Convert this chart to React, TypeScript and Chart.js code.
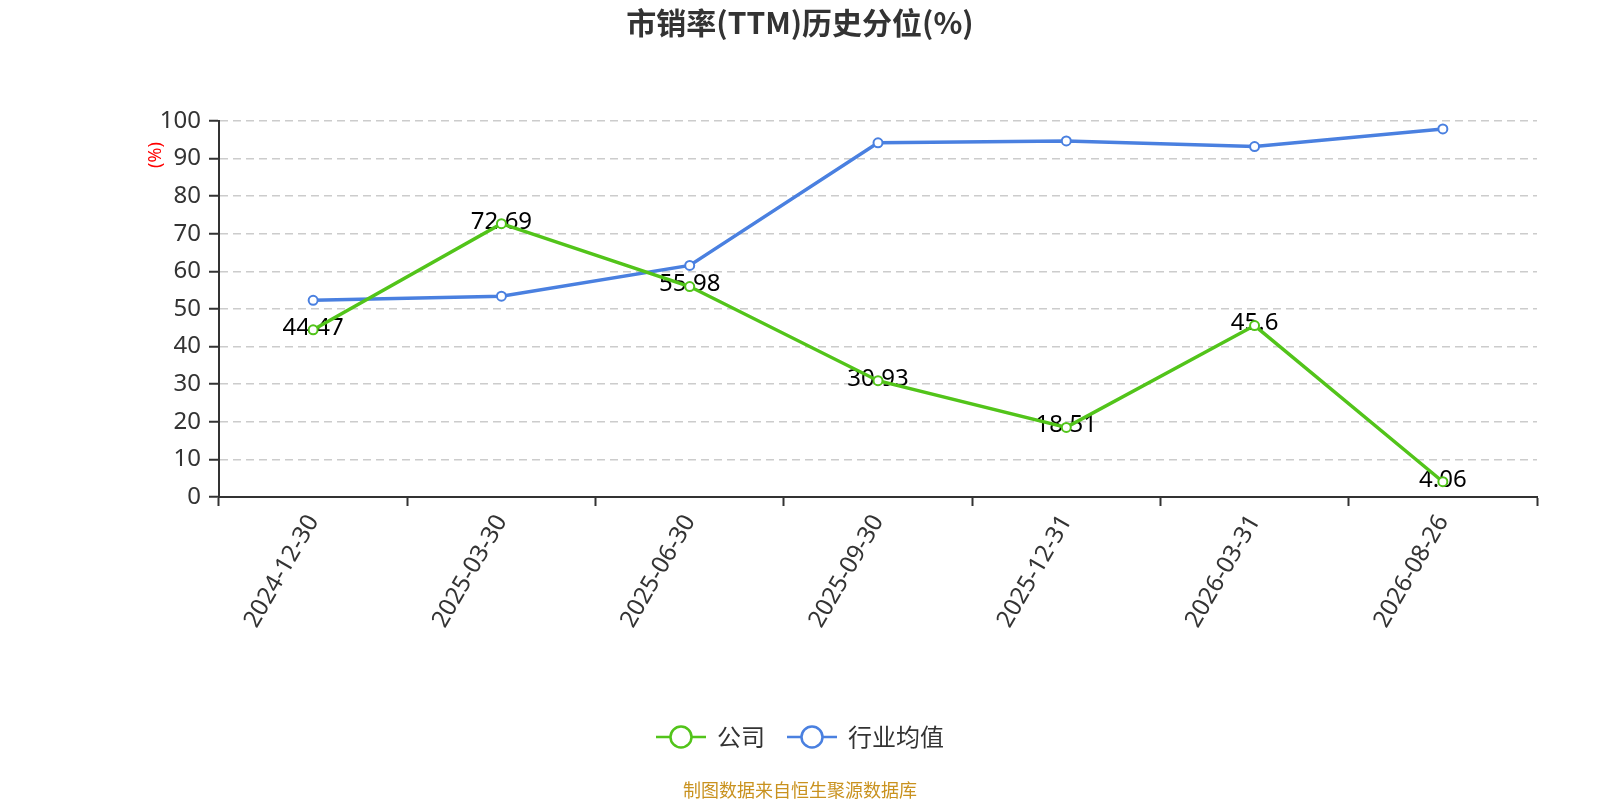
import { Chart, registerables } from "chart.js";
import type { ChartConfiguration, Plugin } from "chart.js";
import { useRef, useEffect } from "react";

Chart.register(...registerables);

// data
const categories = [
  "2024-12-30",
  "2025-03-30",
  "2025-06-30",
  "2025-09-30",
  "2025-12-31",
  "2026-03-31",
  "2026-08-26",
];
const companyValues = [44.47, 72.69, 55.98, 30.93, 18.51, 45.6, 4.06];
const industryValues = [52.3, 53.4, 61.6, 94.2, 94.7, 93.2, 97.9];
const seriesNames = ["公司", "行业均值"];
const yTicks = [0, 10, 20, 30, 40, 50, 60, 70, 80, 90, 100];

const GREEN = "#52c41a";
const BLUE = "#4a80e0";
const TEXT = "#333333";
const FONT = "'Noto Sans', 'Noto Sans CJK SC', sans-serif";
const CJK = "'Noto Sans CJK SC', 'Noto Sans', sans-serif";

// title, y axis unit, value labels, legend and footer
const decorations: Plugin<"line"> = {
  id: "decorations",
  beforeDatasetsDraw(chart) {
    const ctx = chart.ctx;
    const meta = chart.getDatasetMeta(0);
    ctx.save();
    ctx.fillStyle = "#000";
    ctx.font = `24px ${FONT}`;
    ctx.textAlign = "center";
    ctx.textBaseline = "middle";
    meta.data.forEach((pt, i) => {
      ctx.fillText(String(companyValues[i]), pt.x, pt.y - 2);
    });
    ctx.restore();
  },
  afterDraw(chart) {
    const ctx = chart.ctx;
    const w = chart.width;
    ctx.save();

    // title
    ctx.fillStyle = TEXT;
    ctx.font = `bold 30px ${CJK}`;
    ctx.textAlign = "center";
    ctx.textBaseline = "middle";
    ctx.fillText("市销率(TTM)历史分位(%)", w / 2, 23);

    // unit on the y axis
    ctx.save();
    ctx.translate(156, 155);
    ctx.rotate(-Math.PI / 2);
    ctx.fillStyle = "#ff0000";
    ctx.font = `18px ${FONT}`;
    ctx.fillText("(%)", 0, 0);
    ctx.restore();

    // legend
    const colors = [GREEN, BLUE];
    ctx.font = `24px ${CJK}`;
    const lineLen = 50;
    const gapText = 11;
    const gapItem = 22;
    const widths = seriesNames.map((n) => lineLen + gapText + ctx.measureText(n).width);
    const total = widths.reduce((a, b) => a + b, 0) + gapItem * (widths.length - 1);
    let x = w / 2 - total / 2;
    const ly = 737;
    seriesNames.forEach((name, i) => {
      ctx.strokeStyle = colors[i];
      ctx.lineWidth = 2.5;
      ctx.beginPath();
      ctx.moveTo(x, ly);
      ctx.lineTo(x + lineLen, ly);
      ctx.stroke();
      ctx.beginPath();
      ctx.arc(x + lineLen / 2, ly, 10.5, 0, Math.PI * 2);
      ctx.fillStyle = "#fff";
      ctx.fill();
      ctx.lineWidth = 2.5;
      ctx.stroke();
      ctx.fillStyle = TEXT;
      ctx.textAlign = "left";
      ctx.fillText(name, x + lineLen + gapText, ly);
      x += widths[i] + gapItem;
    });

    // footer
    ctx.fillStyle = "#c9921f";
    ctx.font = `18px ${CJK}`;
    ctx.textAlign = "center";
    ctx.fillText("制图数据来自恒生聚源数据库", w / 2, 790);
    ctx.restore();
  },
};

export default function App() {
  const canvasRef = useRef<HTMLCanvasElement | null>(null);

  useEffect(() => {
    document.body.style.margin = "0";
    const config: ChartConfiguration<"line", number[], string> = {
      type: "line",
      data: {
        labels: categories,
        datasets: [
          {
            label: seriesNames[0],
            data: companyValues,
            borderColor: GREEN,
            backgroundColor: "#fff",
            pointBackgroundColor: "#fff",
            pointBorderColor: GREEN,
            pointBorderWidth: 2,
            pointRadius: 4.5,
            borderWidth: 3.5,
            tension: 0,
          },
          {
            label: seriesNames[1],
            data: industryValues,
            borderColor: BLUE,
            backgroundColor: "#fff",
            pointBackgroundColor: "#fff",
            pointBorderColor: BLUE,
            pointBorderWidth: 2,
            pointRadius: 4.5,
            borderWidth: 3.5,
            tension: 0,
          },
        ],
      },
      options: {
        responsive: false,
        animation: false,
        layout: { padding: { left: 0, right: 63, top: 121, bottom: 0 } },
        plugins: {
          legend: { display: false },
          title: { display: false },
          tooltip: { enabled: false },
        },
        scales: {
          x: {
            type: "category",
            offset: true,
            afterFit: (scale) => {
              scale.height = 303;
            },
            grid: {
              offset: true,
              drawOnChartArea: false,
              drawTicks: true,
              tickLength: 9,
              tickColor: TEXT,
              tickWidth: 2,
            },
            border: { color: TEXT, width: 2 },
            ticks: {
              color: TEXT,
              font: { size: 24, family: FONT },
              minRotation: 60,
              maxRotation: 60,
              padding: 4,
              autoSkip: false,
            },
          },
          y: {
            min: 0,
            max: 100,
            afterFit: (scale) => {
              scale.width = 219;
            },
            afterBuildTicks: (scale) => {
              scale.ticks = yTicks.map((v) => ({ value: v }));
            },
            grid: {
              color: "#cccccc",
              lineWidth: 1.5,
              tickLength: 10,
              tickColor: TEXT,
              tickWidth: 2,
            },
            border: { color: TEXT, width: 2, dash: [8, 5] },
            ticks: {
              color: TEXT,
              font: { size: 24, family: FONT },
              padding: 8,
            },
          },
        },
      },
      plugins: [decorations],
    };
    const chart = new Chart(canvasRef.current!, config);
    return () => chart.destroy();
  }, []);

  return <canvas ref={canvasRef} width={1600} height={800} style={{ display: "block" }} />;
}
